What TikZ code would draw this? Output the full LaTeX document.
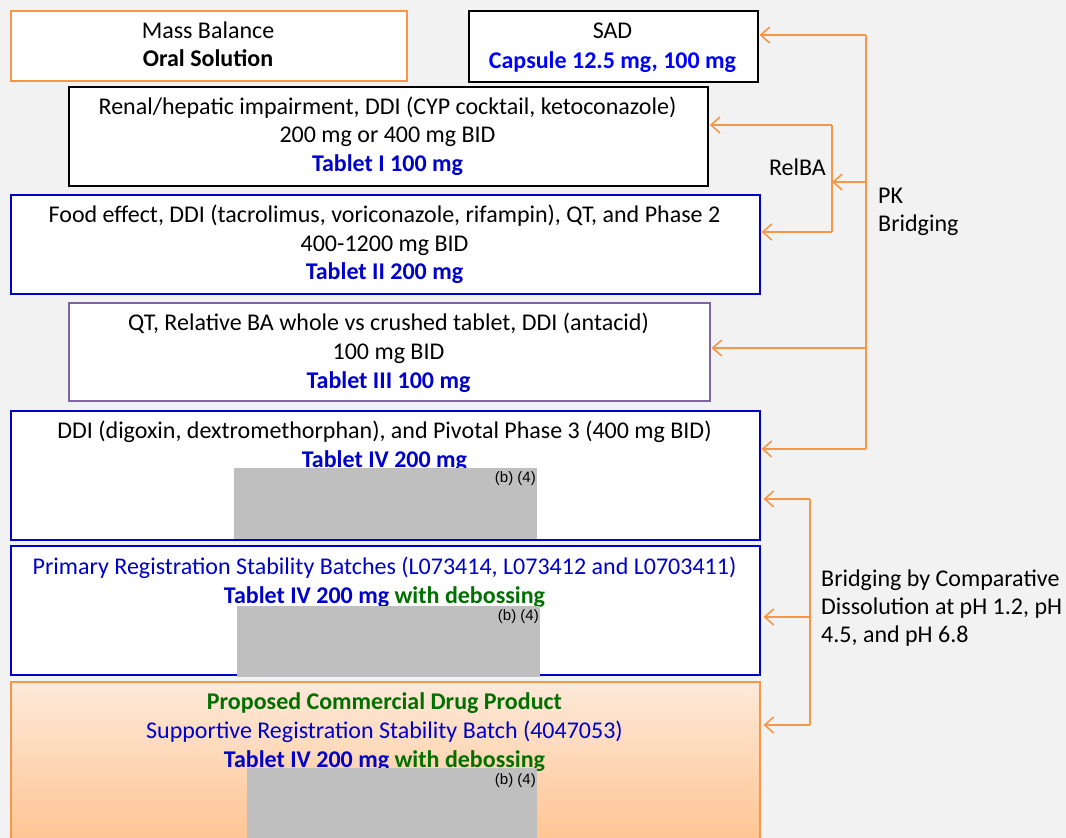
\documentclass[tikz,border=0pt]{standalone}
\usepackage{fontspec}
\setmainfont{Carlito}
\newfontfamily\redfont{Liberation Sans}
\usetikzlibrary{arrows.meta}
\definecolor{bg}{HTML}{F2F2F2}
\definecolor{org}{HTML}{F79646}
\definecolor{bxblue}{HTML}{0000CC}
\definecolor{txtblue}{HTML}{0000CC}
\definecolor{capblue}{HTML}{0000FF}
\definecolor{grn}{HTML}{007000}
\definecolor{purp}{HTML}{8064A2}
\definecolor{redact}{HTML}{BFBFBF}
\definecolor{peachtop}{HTML}{FEE9D9}
\definecolor{peachbot}{HTML}{FFC08A}
\begin{document}
\begin{tikzpicture}[x=1pt,y=-1pt,
  box/.style={draw, line width=1.5pt, fill=white, anchor=north west, inner sep=0pt},
  txt/.style={anchor=base, inner sep=0pt, font=\fontsize{24}{28.5}\selectfont},
  lbl/.style={anchor=base west, inner sep=0pt, font=\fontsize{24}{28.5}\selectfont},
  red/.style={fill=redact, draw=none, anchor=north west, inner sep=0pt},
  redtxt/.style={anchor=north east, inner sep=0pt, font=\redfont\fontsize{15}{16}\selectfont},
  con/.style={draw=org, line width=1.6pt},
  arr/.style={draw=org, line width=1.6pt, -{Straight Barb[length=9pt,width=16pt,line width=1.6pt]}}
]
\clip (0,0) rectangle (1066,838);
\fill[bg] (0,0) rectangle (1066,838);

% boxes
\node[box, draw=org, minimum width=396pt, minimum height=70pt] (mb) at (10,10) {};
\node[box, draw=black, minimum width=289pt, minimum height=71pt] (sad) at (468,10) {};
\node[box, draw=black, line width=1.8pt, minimum width=639pt, minimum height=99pt] (ren) at (68,86) {};
\node[box, draw=bxblue, minimum width=749pt, minimum height=99pt] (food) at (10,194) {};
\node[box, draw=purp, minimum width=641pt, minimum height=98pt] (qt) at (68,302) {};
\node[box, draw=bxblue, minimum width=749pt, minimum height=129pt] (ddi) at (10,410) {};
\node[box, draw=bxblue, minimum width=749pt, minimum height=129pt] (prim) at (10,545) {};
\node[box, draw=org, top color=peachtop, bottom color=peachbot, minimum width=749pt, minimum height=180pt] (prop) at (10,681) {};

% texts
\node[txt] (mb1) at (208,38.5) {Mass Balance};
\node[txt] (mb2) at (208,66.5) {\bfseries Oral Solution};
\node[txt] (sad1) at (612.5,38.5) {SAD};
\node[txt, text=capblue] (sad2) at (612.5,68) {\bfseries Capsule 12.5 mg, 100 mg};
\node[txt] (ren1) at (387.5,114) {Renal/hepatic impairment, DDI (CYP cocktail, ketoconazole)};
\node[txt] (ren2) at (387.5,142.5) {200 mg or 400 mg BID};
\node[txt, text=txtblue] (ren3) at (387.5,171) {\bfseries Tablet I 100 mg};
\node[txt] (food1) at (384.5,222.5) {Food effect, DDI (tacrolimus, voriconazole, rifampin), QT, and Phase 2};
\node[txt] (food2) at (384.5,251) {400-1200 mg BID};
\node[txt, text=txtblue] (food3) at (384.5,279.5) {\bfseries Tablet II 200 mg};
\node[txt] (qt1) at (388.5,330.5) {QT, Relative BA whole vs crushed tablet, DDI (antacid)};
\node[txt] (qt2) at (388.5,359.5) {100 mg BID};
\node[txt, text=txtblue] (qt3) at (388.5,388) {\bfseries Tablet III 100 mg};
\node[txt] (ddi1) at (384.5,438.5) {DDI (digoxin, dextromethorphan), and Pivotal Phase 3 (400 mg BID)};
\node[txt, text=txtblue] (ddi2) at (384.5,467.5) {\bfseries Tablet IV 200 mg};
\node[txt, text=txtblue] (prim1) at (384.5,574.5) {Primary Registration Stability Batches (L073414, L073412 and L0703411)};
\node[txt] (prim2) at (384.5,603.5) {\bfseries\textcolor{txtblue}{Tablet IV 200 mg} \textcolor{grn}{with debossing}};
\node[txt, text=grn] (prop1) at (384.5,709.5) {\bfseries Proposed Commercial Drug Product};
\node[txt, text=txtblue] (prop2) at (384.5,738.5) {Supportive Registration Stability Batch (4047053)};
\node[txt] (prop3) at (384.5,767.5) {\bfseries\textcolor{txtblue}{Tablet IV 200 mg} \textcolor{grn}{with debossing}};

% redactions
\node[red, minimum width=303pt, minimum height=71pt] (r1) at (234,468) {};
\node[redtxt] (r1t) at (536,471) {(b) (4)};
\node[red, minimum width=303pt, minimum height=71pt] (r2) at (237,606) {};
\node[redtxt] (r2t) at (539,609) {(b) (4)};
\node[red, minimum width=290pt, minimum height=75pt] (r3) at (247,768) {};
\node[redtxt] (r3t) at (536,773) {(b) (4)};

% side labels
\node[anchor=base east, inner sep=0pt, font=\fontsize{24}{28.5}\selectfont] (relba) at (826,175.5) {RelBA};
\node[lbl] (pk1t) at (878,203.5) {PK};
\node[lbl] (pk2t) at (878,231.5) {Bridging};
\node[lbl] (dis1) at (821,586.5) {Bridging by Comparative};
\node[lbl] (dis2) at (821,614.5) {Dissolution at pH 1.2, pH};
\node[lbl] (dis3) at (821,642.5) {4.5, and pH 6.8};

% PK bridging connectors
\coordinate (pkA) at (866,35);
\coordinate (pkB) at (866,182);
\coordinate (pkC) at (866,348);
\coordinate (pkD) at (866,449);
\coordinate (rbA) at (832,125);
\coordinate (rbB) at (832,182);
\coordinate (rbC) at (832,232);
\draw[con] (pkA) -- (pkD);
\draw[arr] (pkA) -- ([xshift=1pt]pkA -| sad.east);
\draw[arr] (pkB) -- (rbB);
\draw[arr] (pkC) -- ([xshift=1pt]pkC -| qt.east);
\draw[arr] (pkD) -- ([xshift=1pt]pkD -| ddi.east);
\draw[con] (rbA) -- (rbC);
\draw[arr] (rbA) -- ([xshift=1pt]rbA -| ren.east);
\draw[arr] (rbC) -- ([xshift=1pt]rbC -| food.east);

% dissolution connectors
\coordinate (dA) at (810,499);
\coordinate (dB) at (810,617);
\coordinate (dC) at (810,725);
\draw[con] (dA) -- (dC);
\draw[arr] (dA) -- ([xshift=3pt]dA -| ddi.east);
\draw[arr] (dB) -- ([xshift=3pt]dB -| prim.east);
\draw[arr] (dC) -- ([xshift=3pt]dC -| prop.east);
\end{tikzpicture}
\end{document}
